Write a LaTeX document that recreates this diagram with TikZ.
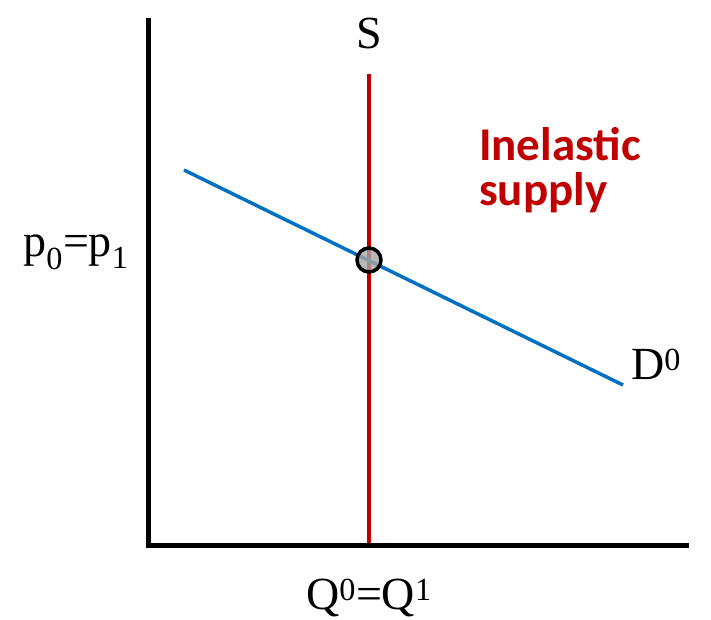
\documentclass[tikz,border=0pt]{standalone}
\usepackage{fontspec}
\setmainfont{Liberation Serif}
\newfontfamily\calib{Carlito}
\begin{document}
\begin{tikzpicture}[x=1pt,y=-1pt,
  axis/.style={line width=5pt},
  lbl/.style={font=\fontsize{46}{50}\selectfont, inner sep=0pt},
  note/.style={font=\calib\bfseries\fontsize{47}{51}\selectfont, text={rgb,255:red,192;green,0;blue,0}, align=left, inner sep=0pt}]
\useasboundingbox (0,0) rectangle (711,619);
\coordinate (O) at (148,545);
\coordinate (Ytop) at (148,20);
\coordinate (Xend) at (686,545);
\draw[axis, line cap=rect] (Ytop) -- (O) -- (Xend);
\coordinate (Stop) at (369,74);
\coordinate (Sbot) at (369,543);
\draw[line width=3.5pt, color={rgb,255:red,192;green,0;blue,0}] (Stop) -- (Sbot);
\coordinate (Da) at (184,170);
\coordinate (Db) at (623,385);
\draw[line width=3.5pt, color={rgb,255:red,0;green,112;blue,192}] (Da) -- (Db);
\node[circle, draw=black, line width=3.5pt, fill=gray!70, minimum size=24pt, inner sep=0pt, fill opacity=0.8] (E) at (369,260) {};
\node[lbl] (S) at (369,33) {S};
\node[lbl] (P) at (76,252) {p\textsubscript{0}=p\textsubscript{1}};
\node[lbl] (Q) at (369,598) {Q\textsuperscript{0}=Q\textsuperscript{1}};
\node[lbl] (D) at (656,364) {D\textsuperscript{0}};
\node[note, anchor=north west] (N) at (479,127) {Inelastic\\[-6pt]supply};
\end{tikzpicture}
\end{document}
